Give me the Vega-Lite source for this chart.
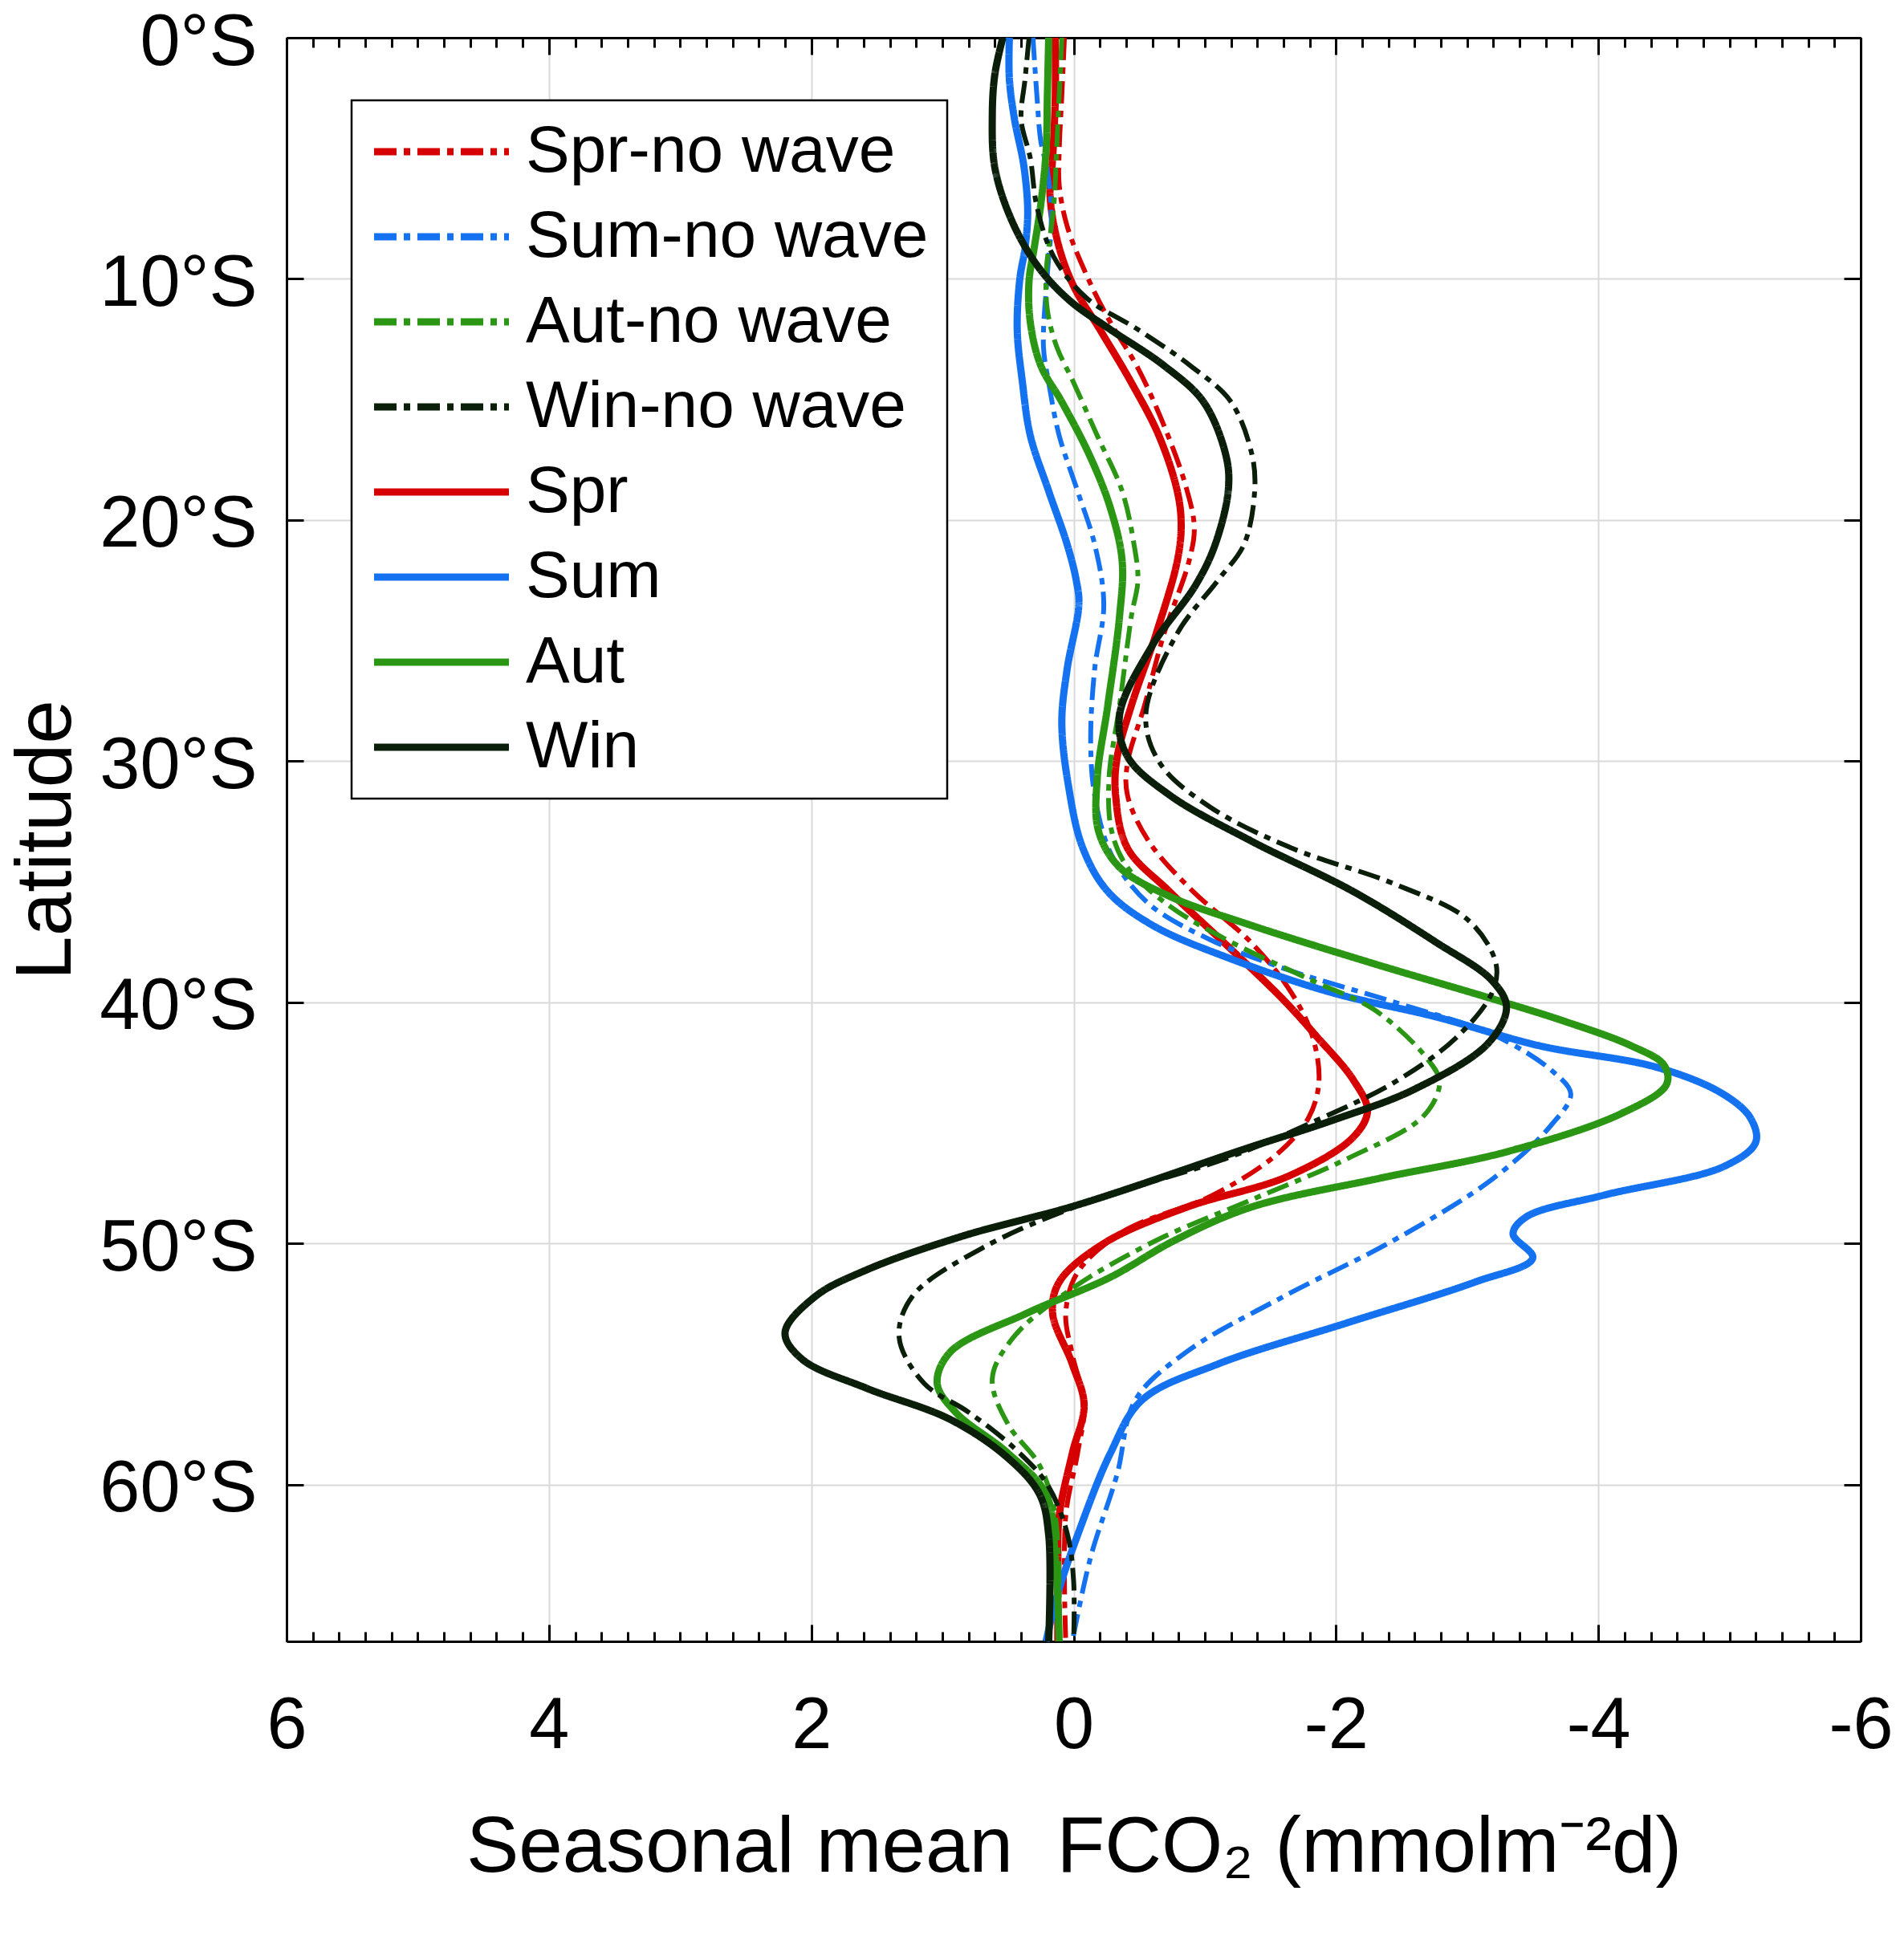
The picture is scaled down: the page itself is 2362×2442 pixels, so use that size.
{
  "$schema": "https://vega.github.io/schema/vega-lite/v6.json",
  "width": 1961,
  "height": 1998,
  "autosize": "none",
  "padding": {"left": 357, "top": 47, "right": 44, "bottom": 397},
  "background": "white",
  "data": {
    "values": [
      {"season": "Spr", "lat": 0, "flux": 0.14},
      {"season": "Spr", "lat": 2.5, "flux": 0.14},
      {"season": "Spr", "lat": 5, "flux": 0.16},
      {"season": "Spr", "lat": 6.5, "flux": 0.18},
      {"season": "Spr", "lat": 8.5, "flux": 0.12},
      {"season": "Spr", "lat": 10.3, "flux": 0.0},
      {"season": "Spr", "lat": 12.1, "flux": -0.2},
      {"season": "Spr", "lat": 14.3, "flux": -0.44},
      {"season": "Spr", "lat": 16.5, "flux": -0.65},
      {"season": "Spr", "lat": 18.8, "flux": -0.79},
      {"season": "Spr", "lat": 20.2, "flux": -0.82},
      {"season": "Spr", "lat": 21.7, "flux": -0.79},
      {"season": "Spr", "lat": 24.7, "flux": -0.63},
      {"season": "Spr", "lat": 27.7, "flux": -0.44},
      {"season": "Spr", "lat": 29.9, "flux": -0.33},
      {"season": "Spr", "lat": 31.4, "flux": -0.32},
      {"season": "Spr", "lat": 33.6, "flux": -0.41},
      {"season": "Spr", "lat": 35.4, "flux": -0.73},
      {"season": "Spr", "lat": 37.8, "flux": -1.2},
      {"season": "Spr", "lat": 39.9, "flux": -1.6},
      {"season": "Spr", "lat": 41.4, "flux": -1.85},
      {"season": "Spr", "lat": 43.2, "flux": -2.13},
      {"season": "Spr", "lat": 44.5, "flux": -2.24},
      {"season": "Spr", "lat": 45.6, "flux": -2.13},
      {"season": "Spr", "lat": 47.2, "flux": -1.64},
      {"season": "Spr", "lat": 48.5, "flux": -0.86},
      {"season": "Spr", "lat": 50.0, "flux": -0.23},
      {"season": "Spr", "lat": 51.6, "flux": 0.11},
      {"season": "Spr", "lat": 52.9, "flux": 0.16},
      {"season": "Spr", "lat": 55.0, "flux": 0.01},
      {"season": "Spr", "lat": 56.7, "flux": -0.08},
      {"season": "Spr", "lat": 58.7, "flux": 0.01},
      {"season": "Spr", "lat": 61.3, "flux": 0.11},
      {"season": "Spr", "lat": 63.5, "flux": 0.12},
      {"season": "Spr", "lat": 66.5, "flux": 0.12},

      {"season": "Spr-no wave", "lat": 0, "flux": 0.07},
      {"season": "Spr-no wave", "lat": 2.4, "flux": 0.09},
      {"season": "Spr-no wave", "lat": 4.7, "flux": 0.11},
      {"season": "Spr-no wave", "lat": 6.1, "flux": 0.11},
      {"season": "Spr-no wave", "lat": 7.8, "flux": 0.05},
      {"season": "Spr-no wave", "lat": 10.1, "flux": -0.12},
      {"season": "Spr-no wave", "lat": 11.8, "flux": -0.28},
      {"season": "Spr-no wave", "lat": 13.7, "flux": -0.49},
      {"season": "Spr-no wave", "lat": 16.1, "flux": -0.69},
      {"season": "Spr-no wave", "lat": 18.5, "flux": -0.85},
      {"season": "Spr-no wave", "lat": 20.3, "flux": -0.92},
      {"season": "Spr-no wave", "lat": 21.7, "flux": -0.88},
      {"season": "Spr-no wave", "lat": 24.7, "flux": -0.69},
      {"season": "Spr-no wave", "lat": 27.7, "flux": -0.54},
      {"season": "Spr-no wave", "lat": 30.1, "flux": -0.41},
      {"season": "Spr-no wave", "lat": 31.4, "flux": -0.41},
      {"season": "Spr-no wave", "lat": 33.3, "flux": -0.57},
      {"season": "Spr-no wave", "lat": 35.4, "flux": -0.91},
      {"season": "Spr-no wave", "lat": 37.5, "flux": -1.35},
      {"season": "Spr-no wave", "lat": 39.6, "flux": -1.66},
      {"season": "Spr-no wave", "lat": 41.4, "flux": -1.82},
      {"season": "Spr-no wave", "lat": 43.3, "flux": -1.87},
      {"season": "Spr-no wave", "lat": 44.8, "flux": -1.79},
      {"season": "Spr-no wave", "lat": 46.3, "flux": -1.55},
      {"season": "Spr-no wave", "lat": 48.0, "flux": -1.06},
      {"season": "Spr-no wave", "lat": 49.5, "flux": -0.38},
      {"season": "Spr-no wave", "lat": 51.2, "flux": -0.03},
      {"season": "Spr-no wave", "lat": 52.9, "flux": 0.06},
      {"season": "Spr-no wave", "lat": 54.6, "flux": 0.01},
      {"season": "Spr-no wave", "lat": 56.7, "flux": -0.08},
      {"season": "Spr-no wave", "lat": 58.7, "flux": -0.03},
      {"season": "Spr-no wave", "lat": 61.3, "flux": 0.06},
      {"season": "Spr-no wave", "lat": 66.5, "flux": 0.06},

      {"season": "Sum", "lat": 0, "flux": 0.49},
      {"season": "Sum", "lat": 1.7, "flux": 0.49},
      {"season": "Sum", "lat": 3.4, "flux": 0.45},
      {"season": "Sum", "lat": 5.3, "flux": 0.38},
      {"season": "Sum", "lat": 7.2, "flux": 0.35},
      {"season": "Sum", "lat": 8.7, "flux": 0.37},
      {"season": "Sum", "lat": 10.0, "flux": 0.41},
      {"season": "Sum", "lat": 12.1, "flux": 0.43},
      {"season": "Sum", "lat": 14.3, "flux": 0.39},
      {"season": "Sum", "lat": 16.5, "flux": 0.33},
      {"season": "Sum", "lat": 18.8, "flux": 0.19},
      {"season": "Sum", "lat": 21.0, "flux": 0.05},
      {"season": "Sum", "lat": 22.5, "flux": -0.02},
      {"season": "Sum", "lat": 23.5, "flux": -0.04},
      {"season": "Sum", "lat": 26.2, "flux": 0.05},
      {"season": "Sum", "lat": 28.4, "flux": 0.09},
      {"season": "Sum", "lat": 31.0, "flux": 0.04},
      {"season": "Sum", "lat": 33.6, "flux": -0.07},
      {"season": "Sum", "lat": 35.4, "flux": -0.26},
      {"season": "Sum", "lat": 36.8, "flux": -0.6},
      {"season": "Sum", "lat": 38.2, "flux": -1.2},
      {"season": "Sum", "lat": 39.6, "flux": -1.97},
      {"season": "Sum", "lat": 40.6, "flux": -2.76},
      {"season": "Sum", "lat": 41.8, "flux": -3.55},
      {"season": "Sum", "lat": 42.7, "flux": -4.45},
      {"season": "Sum", "lat": 43.8, "flux": -4.95},
      {"season": "Sum", "lat": 44.8, "flux": -5.16},
      {"season": "Sum", "lat": 45.8, "flux": -5.2},
      {"season": "Sum", "lat": 46.8, "flux": -4.96},
      {"season": "Sum", "lat": 48.0, "flux": -4.04},
      {"season": "Sum", "lat": 48.9, "flux": -3.45},
      {"season": "Sum", "lat": 49.6, "flux": -3.35},
      {"season": "Sum", "lat": 50.6, "flux": -3.5},
      {"season": "Sum", "lat": 51.6, "flux": -3.06},
      {"season": "Sum", "lat": 53.3, "flux": -2.08},
      {"season": "Sum", "lat": 55.0, "flux": -1.1},
      {"season": "Sum", "lat": 56.5, "flux": -0.52},
      {"season": "Sum", "lat": 58.7, "flux": -0.28},
      {"season": "Sum", "lat": 62.1, "flux": -0.03},
      {"season": "Sum", "lat": 64.5, "flux": 0.12},
      {"season": "Sum", "lat": 66.5, "flux": 0.21},

      {"season": "Sum-no wave", "lat": 0, "flux": 0.31},
      {"season": "Sum-no wave", "lat": 2.4, "flux": 0.28},
      {"season": "Sum-no wave", "lat": 4.3, "flux": 0.25},
      {"season": "Sum-no wave", "lat": 5.5, "flux": 0.2},
      {"season": "Sum-no wave", "lat": 7.5, "flux": 0.17},
      {"season": "Sum-no wave", "lat": 9.8, "flux": 0.2},
      {"season": "Sum-no wave", "lat": 12.8, "flux": 0.23},
      {"season": "Sum-no wave", "lat": 14.3, "flux": 0.19},
      {"season": "Sum-no wave", "lat": 16.5, "flux": 0.11},
      {"season": "Sum-no wave", "lat": 18.8, "flux": -0.03},
      {"season": "Sum-no wave", "lat": 21.0, "flux": -0.16},
      {"season": "Sum-no wave", "lat": 23.5, "flux": -0.23},
      {"season": "Sum-no wave", "lat": 26.2, "flux": -0.16},
      {"season": "Sum-no wave", "lat": 29.2, "flux": -0.13},
      {"season": "Sum-no wave", "lat": 31.4, "flux": -0.16},
      {"season": "Sum-no wave", "lat": 33.9, "flux": -0.29},
      {"season": "Sum-no wave", "lat": 35.9, "flux": -0.57},
      {"season": "Sum-no wave", "lat": 37.4, "flux": -1.04},
      {"season": "Sum-no wave", "lat": 38.7, "flux": -1.66},
      {"season": "Sum-no wave", "lat": 40.0, "flux": -2.45},
      {"season": "Sum-no wave", "lat": 41.4, "flux": -3.22},
      {"season": "Sum-no wave", "lat": 42.9, "flux": -3.66},
      {"season": "Sum-no wave", "lat": 43.8, "flux": -3.79},
      {"season": "Sum-no wave", "lat": 45.1, "flux": -3.64},
      {"season": "Sum-no wave", "lat": 47.3, "flux": -3.2},
      {"season": "Sum-no wave", "lat": 49.9, "flux": -2.43},
      {"season": "Sum-no wave", "lat": 52.2, "flux": -1.6},
      {"season": "Sum-no wave", "lat": 54.5, "flux": -0.86},
      {"season": "Sum-no wave", "lat": 56.5, "flux": -0.47},
      {"season": "Sum-no wave", "lat": 59.6, "flux": -0.33},
      {"season": "Sum-no wave", "lat": 63.0, "flux": -0.13},
      {"season": "Sum-no wave", "lat": 66.5, "flux": 0.01},

      {"season": "Aut", "lat": 0, "flux": 0.19},
      {"season": "Aut", "lat": 2.4, "flux": 0.2},
      {"season": "Aut", "lat": 4.7, "flux": 0.21},
      {"season": "Aut", "lat": 6.9, "flux": 0.25},
      {"season": "Aut", "lat": 8.7, "flux": 0.3},
      {"season": "Aut", "lat": 10.1, "flux": 0.34},
      {"season": "Aut", "lat": 11.8, "flux": 0.33},
      {"season": "Aut", "lat": 13.6, "flux": 0.25},
      {"season": "Aut", "lat": 15.1, "flux": 0.09},
      {"season": "Aut", "lat": 17.3, "flux": -0.12},
      {"season": "Aut", "lat": 19.5, "flux": -0.28},
      {"season": "Aut", "lat": 21.7, "flux": -0.37},
      {"season": "Aut", "lat": 24.0, "flux": -0.35},
      {"season": "Aut", "lat": 27.7, "flux": -0.26},
      {"season": "Aut", "lat": 30.7, "flux": -0.18},
      {"season": "Aut", "lat": 32.9, "flux": -0.19},
      {"season": "Aut", "lat": 34.4, "flux": -0.35},
      {"season": "Aut", "lat": 35.6, "flux": -0.73},
      {"season": "Aut", "lat": 36.8, "flux": -1.35},
      {"season": "Aut", "lat": 38.4, "flux": -2.29},
      {"season": "Aut", "lat": 39.9, "flux": -3.22},
      {"season": "Aut", "lat": 40.8, "flux": -3.75},
      {"season": "Aut", "lat": 41.8, "flux": -4.25},
      {"season": "Aut", "lat": 42.6, "flux": -4.5},
      {"season": "Aut", "lat": 43.4, "flux": -4.52},
      {"season": "Aut", "lat": 44.6, "flux": -4.18},
      {"season": "Aut", "lat": 46.2, "flux": -3.3},
      {"season": "Aut", "lat": 47.3, "flux": -2.33},
      {"season": "Aut", "lat": 48.5, "flux": -1.35},
      {"season": "Aut", "lat": 49.9, "flux": -0.76},
      {"season": "Aut", "lat": 51.4, "flux": -0.28},
      {"season": "Aut", "lat": 52.9, "flux": 0.36},
      {"season": "Aut", "lat": 54.5, "flux": 0.94},
      {"season": "Aut", "lat": 55.8, "flux": 1.04},
      {"season": "Aut", "lat": 57.0, "flux": 0.9},
      {"season": "Aut", "lat": 58.7, "flux": 0.5},
      {"season": "Aut", "lat": 60.4, "flux": 0.21},
      {"season": "Aut", "lat": 63.0, "flux": 0.14},
      {"season": "Aut", "lat": 66.5, "flux": 0.11},

      {"season": "Aut-no wave", "lat": 0, "flux": 0.09},
      {"season": "Aut-no wave", "lat": 2.4, "flux": 0.11},
      {"season": "Aut-no wave", "lat": 4.7, "flux": 0.13},
      {"season": "Aut-no wave", "lat": 6.9, "flux": 0.15},
      {"season": "Aut-no wave", "lat": 8.7, "flux": 0.19},
      {"season": "Aut-no wave", "lat": 9.8, "flux": 0.21},
      {"season": "Aut-no wave", "lat": 11.3, "flux": 0.2},
      {"season": "Aut-no wave", "lat": 12.8, "flux": 0.13},
      {"season": "Aut-no wave", "lat": 14.3, "flux": 0.0},
      {"season": "Aut-no wave", "lat": 16.5, "flux": -0.18},
      {"season": "Aut-no wave", "lat": 18.8, "flux": -0.37},
      {"season": "Aut-no wave", "lat": 21.0, "flux": -0.46},
      {"season": "Aut-no wave", "lat": 22.5, "flux": -0.49},
      {"season": "Aut-no wave", "lat": 24.0, "flux": -0.44},
      {"season": "Aut-no wave", "lat": 27.7, "flux": -0.35},
      {"season": "Aut-no wave", "lat": 30.7, "flux": -0.27},
      {"season": "Aut-no wave", "lat": 32.9, "flux": -0.29},
      {"season": "Aut-no wave", "lat": 34.4, "flux": -0.41},
      {"season": "Aut-no wave", "lat": 36.0, "flux": -0.73},
      {"season": "Aut-no wave", "lat": 37.5, "flux": -1.2},
      {"season": "Aut-no wave", "lat": 39.1, "flux": -1.82},
      {"season": "Aut-no wave", "lat": 40.3, "flux": -2.29},
      {"season": "Aut-no wave", "lat": 42.3, "flux": -2.69},
      {"season": "Aut-no wave", "lat": 43.3, "flux": -2.79},
      {"season": "Aut-no wave", "lat": 44.7, "flux": -2.67},
      {"season": "Aut-no wave", "lat": 46.5, "flux": -2.08},
      {"season": "Aut-no wave", "lat": 48.2, "flux": -1.35},
      {"season": "Aut-no wave", "lat": 49.9, "flux": -0.62},
      {"season": "Aut-no wave", "lat": 51.9, "flux": 0.02},
      {"season": "Aut-no wave", "lat": 53.9, "flux": 0.46},
      {"season": "Aut-no wave", "lat": 55.6, "flux": 0.62},
      {"season": "Aut-no wave", "lat": 57.5, "flux": 0.5},
      {"season": "Aut-no wave", "lat": 59.2, "flux": 0.26},
      {"season": "Aut-no wave", "lat": 61.3, "flux": 0.14},
      {"season": "Aut-no wave", "lat": 66.5, "flux": 0.11},

      {"season": "Win", "lat": 0, "flux": 0.54},
      {"season": "Win", "lat": 1.5, "flux": 0.6},
      {"season": "Win", "lat": 3.2, "flux": 0.62},
      {"season": "Win", "lat": 5.4, "flux": 0.6},
      {"season": "Win", "lat": 7.6, "flux": 0.47},
      {"season": "Win", "lat": 9.5, "flux": 0.27},
      {"season": "Win", "lat": 10.9, "flux": 0.03},
      {"season": "Win", "lat": 12.1, "flux": -0.28},
      {"season": "Win", "lat": 13.6, "flux": -0.69},
      {"season": "Win", "lat": 15.1, "flux": -0.99},
      {"season": "Win", "lat": 17.3, "flux": -1.16},
      {"season": "Win", "lat": 18.7, "flux": -1.18},
      {"season": "Win", "lat": 21.0, "flux": -1.08},
      {"season": "Win", "lat": 22.7, "flux": -0.93},
      {"season": "Win", "lat": 25.2, "flux": -0.6},
      {"season": "Win", "lat": 28.1, "flux": -0.35},
      {"season": "Win", "lat": 29.8, "flux": -0.41},
      {"season": "Win", "lat": 31.4, "flux": -0.73},
      {"season": "Win", "lat": 33.3, "flux": -1.35},
      {"season": "Win", "lat": 35.4, "flux": -2.13},
      {"season": "Win", "lat": 37.5, "flux": -2.76},
      {"season": "Win", "lat": 39.1, "flux": -3.19},
      {"season": "Win", "lat": 40.2, "flux": -3.3},
      {"season": "Win", "lat": 41.7, "flux": -3.16},
      {"season": "Win", "lat": 43.6, "flux": -2.6},
      {"season": "Win", "lat": 44.9, "flux": -1.97},
      {"season": "Win", "lat": 46.0, "flux": -1.35},
      {"season": "Win", "lat": 48.4, "flux": -0.03},
      {"season": "Win", "lat": 49.7, "flux": 0.85},
      {"season": "Win", "lat": 51.1, "flux": 1.58},
      {"season": "Win", "lat": 52.2, "flux": 1.97},
      {"season": "Win", "lat": 53.7, "flux": 2.2},
      {"season": "Win", "lat": 54.8, "flux": 2.07},
      {"season": "Win", "lat": 56.0, "flux": 1.58},
      {"season": "Win", "lat": 57.3, "flux": 0.94},
      {"season": "Win", "lat": 58.9, "flux": 0.5},
      {"season": "Win", "lat": 60.4, "flux": 0.26},
      {"season": "Win", "lat": 62.1, "flux": 0.19},
      {"season": "Win", "lat": 66.5, "flux": 0.19},

      {"season": "Win-no wave", "lat": 0, "flux": 0.34},
      {"season": "Win-no wave", "lat": 1.7, "flux": 0.37},
      {"season": "Win-no wave", "lat": 3.4, "flux": 0.4},
      {"season": "Win-no wave", "lat": 5.0, "flux": 0.33},
      {"season": "Win-no wave", "lat": 7.0, "flux": 0.28},
      {"season": "Win-no wave", "lat": 9.1, "flux": 0.15},
      {"season": "Win-no wave", "lat": 10.8, "flux": -0.1},
      {"season": "Win-no wave", "lat": 12.1, "flux": -0.49},
      {"season": "Win-no wave", "lat": 13.6, "flux": -0.89},
      {"season": "Win-no wave", "lat": 15.1, "flux": -1.2},
      {"season": "Win-no wave", "lat": 17.3, "flux": -1.36},
      {"season": "Win-no wave", "lat": 18.8, "flux": -1.38},
      {"season": "Win-no wave", "lat": 21.0, "flux": -1.3},
      {"season": "Win-no wave", "lat": 22.5, "flux": -1.1},
      {"season": "Win-no wave", "lat": 24.7, "flux": -0.79},
      {"season": "Win-no wave", "lat": 28.1, "flux": -0.55},
      {"season": "Win-no wave", "lat": 30.1, "flux": -0.66},
      {"season": "Win-no wave", "lat": 31.9, "flux": -1.04},
      {"season": "Win-no wave", "lat": 33.6, "flux": -1.66},
      {"season": "Win-no wave", "lat": 35.1, "flux": -2.45},
      {"season": "Win-no wave", "lat": 36.6, "flux": -3.01},
      {"season": "Win-no wave", "lat": 38.4, "flux": -3.22},
      {"season": "Win-no wave", "lat": 39.6, "flux": -3.19},
      {"season": "Win-no wave", "lat": 41.5, "flux": -2.91},
      {"season": "Win-no wave", "lat": 43.3, "flux": -2.45},
      {"season": "Win-no wave", "lat": 44.9, "flux": -1.85},
      {"season": "Win-no wave", "lat": 46.5, "flux": -1.15},
      {"season": "Win-no wave", "lat": 48.3, "flux": -0.1},
      {"season": "Win-no wave", "lat": 50.2, "flux": 0.7},
      {"season": "Win-no wave", "lat": 52.2, "flux": 1.23},
      {"season": "Win-no wave", "lat": 53.9, "flux": 1.33},
      {"season": "Win-no wave", "lat": 55.8, "flux": 1.14},
      {"season": "Win-no wave", "lat": 57.0, "flux": 0.8},
      {"season": "Win-no wave", "lat": 58.5, "flux": 0.45},
      {"season": "Win-no wave", "lat": 60.0, "flux": 0.2},
      {"season": "Win-no wave", "lat": 62.0, "flux": 0.05},
      {"season": "Win-no wave", "lat": 64.0, "flux": 0.0},
      {"season": "Win-no wave", "lat": 66.5, "flux": 0.0}
    ]
  },
  "layer": [
    {
      "mark": {"type": "point", "opacity": 0},
      "encoding": {
        "x": {
          "field": "flux", "type": "quantitative",
          "scale": {"domain": [-6, 6], "reverse": true, "nice": false, "zero": false},
          "axis": {"orient": "bottom", "values": [-4, -2, 0, 2, 4], "grid": true, "ticks": false, "labels": false, "domain": false, "title": null}
        },
        "y": {
          "field": "lat", "type": "quantitative",
          "scale": {"domain": [0, 66.5], "reverse": true, "nice": false, "zero": false},
          "axis": {"orient": "left", "values": [10, 20, 30, 40, 50, 60], "grid": true, "ticks": false, "labels": false, "domain": false, "title": null}
        }
      }
    },
    {
      "mark": {"type": "point", "opacity": 0},
      "encoding": {
        "x": {
          "field": "flux", "type": "quantitative",
          "axis": {"orient": "bottom", "values": [-6, -5.8, -5.6, -5.4, -5.2, -5, -4.8, -4.6, -4.4, -4.2, -4, -3.8, -3.6, -3.4, -3.2, -3, -2.8, -2.6, -2.4, -2.2, -2, -1.8, -1.6, -1.4, -1.2, -1, -0.8, -0.6, -0.4, -0.2, 0, 0.2, 0.4, 0.6, 0.8, 1, 1.2, 1.4, 1.6, 1.8, 2, 2.2, 2.4, 2.6, 2.8, 3, 3.2, 3.4, 3.6, 3.8, 4, 4.2, 4.4, 4.6, 4.8, 5, 5.2, 5.4, 5.6, 5.8, 6], "grid": false, "ticks": true, "tickSize": -12, "labels": false, "domain": false, "title": null}
        },
        "y": {
          "field": "lat", "type": "quantitative",
          "axis": {"orient": "right", "values": [0, 10, 20, 30, 40, 50, 60], "grid": false, "ticks": true, "tickSize": -21, "labels": false, "domain": true, "title": null}
        }
      }
    },
    {
      "mark": {"type": "point", "opacity": 0},
      "encoding": {
        "x": {
          "field": "flux", "type": "quantitative",
          "axis": {"orient": "top", "values": [-6, -5.8, -5.6, -5.4, -5.2, -5, -4.8, -4.6, -4.4, -4.2, -4, -3.8, -3.6, -3.4, -3.2, -3, -2.8, -2.6, -2.4, -2.2, -2, -1.8, -1.6, -1.4, -1.2, -1, -0.8, -0.6, -0.4, -0.2, 0, 0.2, 0.4, 0.6, 0.8, 1, 1.2, 1.4, 1.6, 1.8, 2, 2.2, 2.4, 2.6, 2.8, 3, 3.2, 3.4, 3.6, 3.8, 4, 4.2, 4.4, 4.6, 4.8, 5, 5.2, 5.4, 5.6, 5.8, 6], "grid": false, "ticks": true, "tickSize": -12, "labels": false, "domain": true, "title": null}
        },
        "y": {"field": "lat", "type": "quantitative", "axis": null}
      }
    },
    {
      "mark": {"type": "point", "opacity": 0},
      "encoding": {
        "x": {
          "field": "flux", "type": "quantitative",
          "axis": {"orient": "top", "values": [-6, -4, -2, 0, 2, 4, 6], "grid": false, "ticks": true, "tickSize": -21, "labels": false, "domain": false, "title": null}
        },
        "y": {"field": "lat", "type": "quantitative", "axis": null}
      }
    },
    {
      "mark": {"type": "line", "interpolate": "catmull-rom", "strokeJoin": "round", "strokeCap": "butt"},
      "encoding": {
        "x": {
          "field": "flux", "type": "quantitative",
          "axis": {
            "orient": "bottom", "values": [-6, -4, -2, 0, 2, 4, 6], "labelExpr": "datum.value",
            "labelFlush": false, "grid": false, "ticks": true, "tickSize": -21, "labelPadding": 82, "domain": true,
            "title": "Seasonal mean\u00a0 FCO₂ (mmolm⁻²d)", "titlePadding": 59
          }
        },
        "y": {
          "field": "lat", "type": "quantitative",
          "axis": {
            "orient": "left", "values": [0, 10, 20, 30, 40, 50, 60], "labelExpr": "datum.value + '°S'",
            "labelFlush": false, "labelOffset": 6, "grid": false, "ticks": true, "tickSize": -21, "labelPadding": 58, "domain": true,
            "title": "Latitude", "titlePadding": 49
          }
        },
        "order": {"field": "lat", "type": "quantitative"},
        "color": {
          "field": "season", "type": "nominal", "title": null,
          "scale": {
            "domain": ["Spr-no wave", "Sum-no wave", "Aut-no wave", "Win-no wave", "Spr", "Sum", "Aut", "Win"],
            "range": ["#d60000", "#1472f0", "#2a9614", "#0a1e0a", "#d60000", "#1472f0", "#2a9614", "#0a1e0a"]
          },
          "legend": {"orient": "none", "legendX": 81, "legendY": 78}
        },
        "strokeDash": {
          "field": "season", "type": "nominal", "title": null,
          "scale": {
            "domain": ["Spr-no wave", "Sum-no wave", "Aut-no wave", "Win-no wave", "Spr", "Sum", "Aut", "Win"],
            "range": [[28, 9, 8, 9], [28, 9, 8, 9], [28, 9, 8, 9], [28, 9, 8, 9], [1, 0], [1, 0], [1, 0], [1, 0]]
          }
        },
        "strokeWidth": {
          "condition": {"test": "indexof(datum.season, 'no wave') >= 0", "value": 6},
          "value": 9
        }
      }
    }
  ],
  "resolve": {"axis": {"x": "independent", "y": "independent"}},
  "config": {
    "font": "Liberation Sans",
    "view": {"stroke": null},
    "axis": {
      "labelFont": "Liberation Sans",
      "labelFontSize": 90,
      "labelColor": "black",
      "labelLimit": 500,
      "titleFont": "Liberation Sans",
      "titleFontSize": 98,
      "titleFontWeight": "normal",
      "titleColor": "black",
      "titleLimit": 3000,
      "domainColor": "black",
      "domainWidth": 3,
      "tickColor": "black",
      "tickWidth": 3,
      "gridColor": "#d9d9d9",
      "gridWidth": 2
    },
    "legend": {
      "labelFont": "Liberation Sans",
      "labelFontSize": 82,
      "labelColor": "black",
      "labelLimit": 1000,
      "labelOffset": 112,
      "symbolType": "M-2.57,0H9.43",
      "symbolSize": 784,
      "symbolStrokeWidth": 9,
      "rowPadding": 24,
      "padding": 23,
      "fillColor": "white",
      "strokeColor": "black",
      "strokeWidth": 2.5
    }
  }
}
